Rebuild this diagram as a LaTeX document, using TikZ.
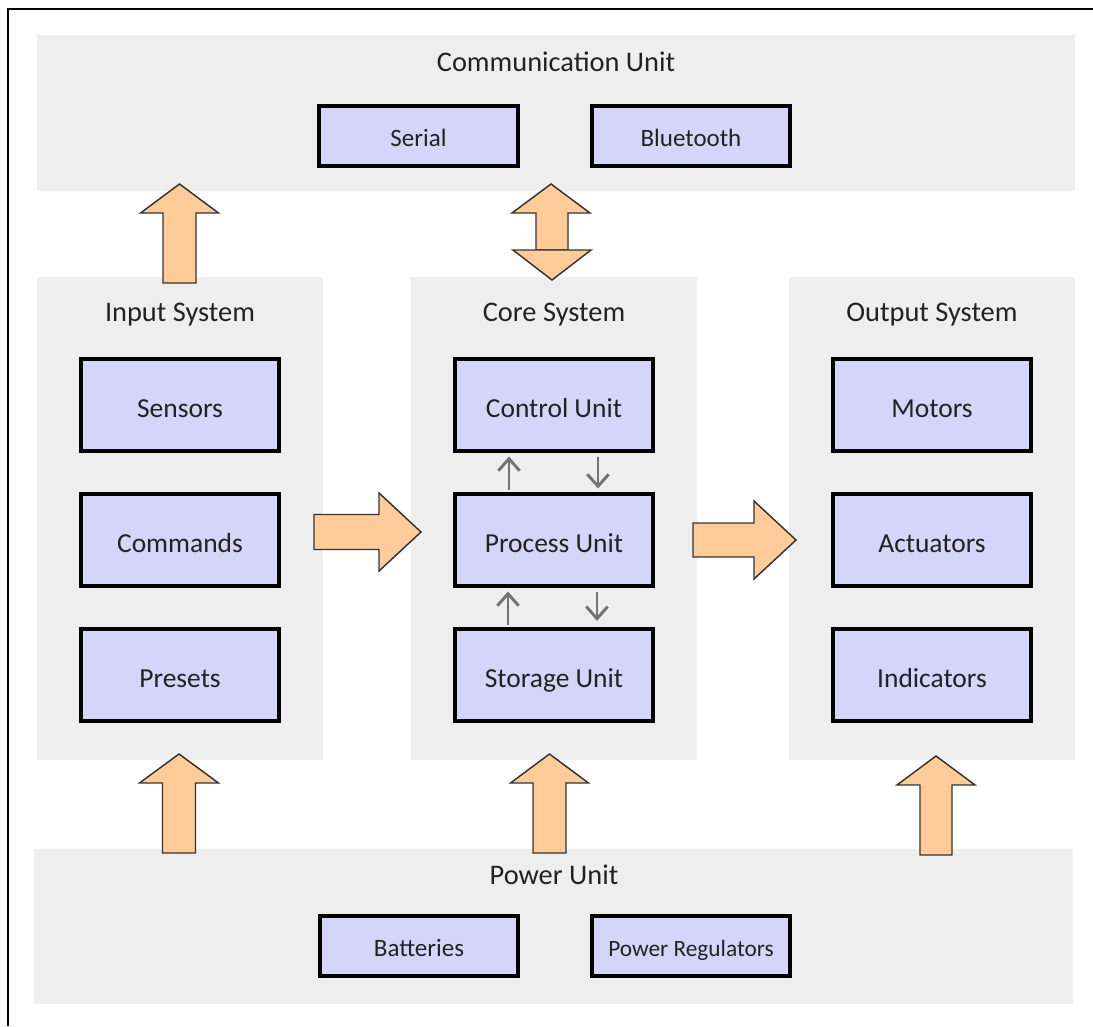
\documentclass[tikz,border=0pt]{standalone}
\usepackage{fontspec}
\setmainfont{Carlito}
\usetikzlibrary{arrows.meta,calc}
\definecolor{panelgray}{RGB}{238,238,238}
\definecolor{boxfill}{RGB}{213,213,250}
\definecolor{fatfill}{RGB}{255,204,153}
\definecolor{fatline}{RGB}{51,51,51}
\definecolor{txt}{RGB}{34,34,34}
\definecolor{garr}{RGB}{115,115,115}
\newcommand\rbox[7]{\node[#1, minimum width={(#4-#2)*0.75pt}, minimum height={(#5-#3)*0.75pt}] (#6) at ({(#2+#4)/2},{(#3+#5)/2}) {#7};}
\newcommand\fatup[6]{\draw[fatarrow] ({#1-#5},#2) -- ({#1-#5},#3) -- ({#1-#6},#3) -- (#1,#4) -- ({#1+#6},#3) -- ({#1+#5},#3) -- ({#1+#5},#2) -- cycle;}
\newcommand\fatright[6]{\draw[fatarrow] (#2,{#1-#5}) -- (#3,{#1-#5}) -- (#3,{#1-#6}) -- (#4,#1) -- (#3,{#1+#6}) -- (#3,{#1+#5}) -- (#2,{#1+#5}) -- cycle;}
\tikzset{
  panel/.style={fill=panelgray, draw=none, inner sep=0pt},
  ptitle/.style={font=\fontsize{21.3}{24}\selectfont, text=txt, inner sep=0pt},
  bigbox/.style={fill=boxfill, draw=black, line width=2.3pt, inner sep=0pt, text depth=0pt, text height=18pt, font=\fontsize{20.6}{24}\selectfont, text=txt},
  smallbox/.style={fill=boxfill, draw=black, line width=2.3pt, inner sep=0pt, text depth=0pt, text height=16pt, font=\fontsize{18.75}{22}\selectfont, text=txt},
  fatarrow/.style={fill=fatfill, draw=fatline, line width=1.1pt, line join=miter},
  garrow/.style={draw=garr, line width=2.2pt, -{Straight Barb[length=9pt,width=16pt,line width=2.2pt]}},
  frame/.style={draw=black, line width=1.6pt}
}
\begin{document}
\begin{tikzpicture}[x=0.75pt,y=-0.75pt]
\useasboundingbox (0,0) rectangle (1093,1026);
% frame
\draw[frame] (8,1026) -- (8,9) -- (1093,9);
% panels
\rbox{panel}{37}{35}{1075}{191}{comP}{}
\rbox{panel}{37}{277}{323}{760}{inP}{}
\rbox{panel}{411}{277}{697}{760}{coreP}{}
\rbox{panel}{789}{277}{1075}{760}{outP}{}
\rbox{panel}{34}{849}{1073}{1004}{powP}{}
% titles
\node[ptitle] (comT) at (556,62) {Communication Unit};
\node[ptitle] (inT) at (180,315) {Input System};
\node[ptitle] (coreT) at (554,315) {Core System};
\node[ptitle] (outT) at (932,315) {Output System};
\node[ptitle] (powT) at (554,875) {Power Unit};
% communication boxes
\rbox{smallbox}{319}{106}{518}{166}{ser}{Serial}
\rbox{smallbox}{592}{106}{790}{166}{blu}{Bluetooth}
% input
\rbox{bigbox}{81}{359}{279}{451}{sen}{Sensors}
\rbox{bigbox}{81}{494}{279}{586}{cmd}{Commands}
\rbox{bigbox}{81}{629}{279}{721}{pre}{Presets}
% core
\rbox{bigbox}{455}{359}{653}{451}{cu}{Control Unit}
\rbox{bigbox}{455}{494}{653}{586}{pu}{Process Unit}
\rbox{bigbox}{455}{629}{653}{721}{su}{Storage Unit}
% output
\rbox{bigbox}{833}{359}{1031}{451}{mot}{Motors}
\rbox{bigbox}{833}{494}{1031}{586}{act}{Actuators}
\rbox{bigbox}{833}{629}{1031}{721}{ind}{Indicators}
% power boxes
\rbox{smallbox}{320}{916}{518}{976}{bat}{Batteries}
\node[smallbox, font=\fontsize{17.5}{20}\selectfont, minimum width={198*0.75pt}, minimum height={60*0.75pt}] (reg) at (691,946) {Power Regulators};
% gray arrows in core
\draw[garrow, shorten <=1.5pt, shorten >=3pt] ([xshift=-45*0.75pt]pu.north) -- ([xshift=-45*0.75pt]cu.south);
\draw[garrow, shorten <=3pt, shorten >=3pt] ([xshift=44*0.75pt]cu.south) -- ([xshift=44*0.75pt]pu.north);
\draw[garrow, shorten <=1.5pt, shorten >=3pt] ([xshift=-46*0.75pt]su.north) -- ([xshift=-46*0.75pt]pu.south);
\draw[garrow, shorten <=3pt, shorten >=5pt] ([xshift=43*0.75pt]pu.south) -- ([xshift=43*0.75pt]su.north);
% fat arrows
\fatup{179.5}{283}{213}{184}{16.5}{39}
\fatup{179}{853}{783}{754}{16.5}{39.5}
\fatup{549.5}{853}{783}{754}{16.5}{39}
\fatup{936}{855}{785}{756}{16}{39}
\fatright{532}{314}{379}{421}{17.5}{39}
\fatright{540}{693}{754}{796}{17}{39}
% double arrow
\draw[fatarrow] (536,250) -- (536,213) -- (512,213) -- (551,184) -- (590,213) -- (568,213) -- (568,250) -- cycle;
\draw[fatarrow] (513,250) -- (591,250) -- (552,280) -- cycle;
\end{tikzpicture}
\end{document}
